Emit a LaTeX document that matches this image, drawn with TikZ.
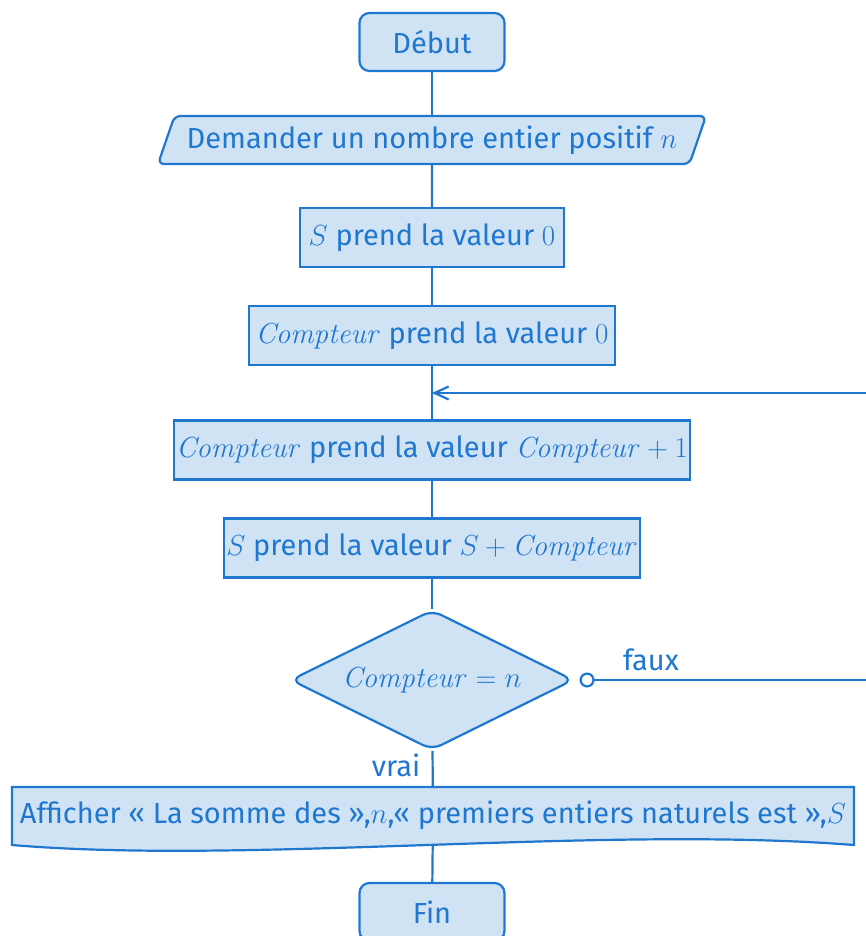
\RequirePackage{fix-cm}
\documentclass[tikz,border=0pt]{standalone}
\usepackage[no-math]{fontspec}
\setmainfont{Fira Sans}
\usetikzlibrary{shapes.geometric, arrows.meta, backgrounds}
\definecolor{flowline}{HTML}{1F77D0}
\definecolor{flowfill}{HTML}{D0E3F4}
\newcommand\cpt{\mathit{Compteur}}

\begin{document}
\begin{tikzpicture}[x=1pt, y=-1pt,
  font=\fontsize{29}{34}\selectfont,
  every node/.style={text=flowline},
  base/.style={draw=flowline, fill=flowfill, line width=2.2pt},
  terminal/.style={base, rounded corners=10pt, minimum width=145pt, minimum height=58pt},
  process/.style={base, minimum height=59pt, inner xsep=0pt},
  io/.style={base, trapezium, trapezium left angle=65, trapezium right angle=115,
    rounded corners=6pt, minimum width=548pt, minimum height=48pt, inner xsep=2pt,
    trapezium stretches body},
  decision/.style={base, diamond, aspect=2.02, rounded corners=10pt, minimum width=283pt,
    minimum height=140pt, inner sep=0pt},
  link/.style={draw=flowline, line width=2.2pt},
  lbl/.style={inner sep=0pt},
]
\useasboundingbox (0,0) rectangle (866,936);
\clip (0,0) rectangle (866,936);

% main column of the flowchart
\node[terminal] (debut) at (432,42) {Début};
\node[io] (lire) at (432,140) {Demander un nombre entier positif $n$};
\node[process, minimum width=264pt] (s0) at (432,237.5) {$S$ prend la valeur $0$};
\node[process, minimum width=366pt] (c0) at (432,335.5) {$\cpt$ prend la valeur $0$};
\coordinate (join) at (432,393);
\node[process, minimum width=516pt] (cinc) at (432,450) {$\cpt$ prend la valeur $\cpt+1$};
\node[process, minimum width=416pt] (sinc) at (432,548) {$S$ prend la valeur $S+\cpt$};
\node[decision] (test) at (432,680) {$\cpt=n$};
\node[minimum width=842pt, minimum height=57pt, inner sep=0pt] (aff) at (433,815.5)
  {Afficher « La somme des »,$n$,« premiers entiers naturels est »,$S$};
\node[terminal] (fin) at (432,912) {Fin};

% output box with a wavy lower edge
\begin{scope}[on background layer]
  \path[base] (12,787) -- (12,845)
    .. controls (250,865) and (600,825) .. (854,845) -- (854,787) -- cycle;
\end{scope}

% connectors
\draw[link] (debut) -- (lire);
\draw[link] (lire) -- (s0);
\draw[link] (s0) -- (c0);
\draw[link] (c0) -- (cinc);
\draw[link] (cinc) -- (sinc);
\draw[link] (sinc) -- (test);
\draw[link] (test) -- (aff);
\draw[link] (aff) -- (fin);
\draw[link, {Circle[open, length=15pt, width=15pt, fill=white]}-{Straight Barb[length=14pt, width=13pt]},
  shorten <=5pt] (test.east) -- (900,680) |- (join);

% branch labels
\node[lbl] at (651,660) {faux};
\node[lbl] at (396,765) {vrai};
\end{tikzpicture}
\end{document}
